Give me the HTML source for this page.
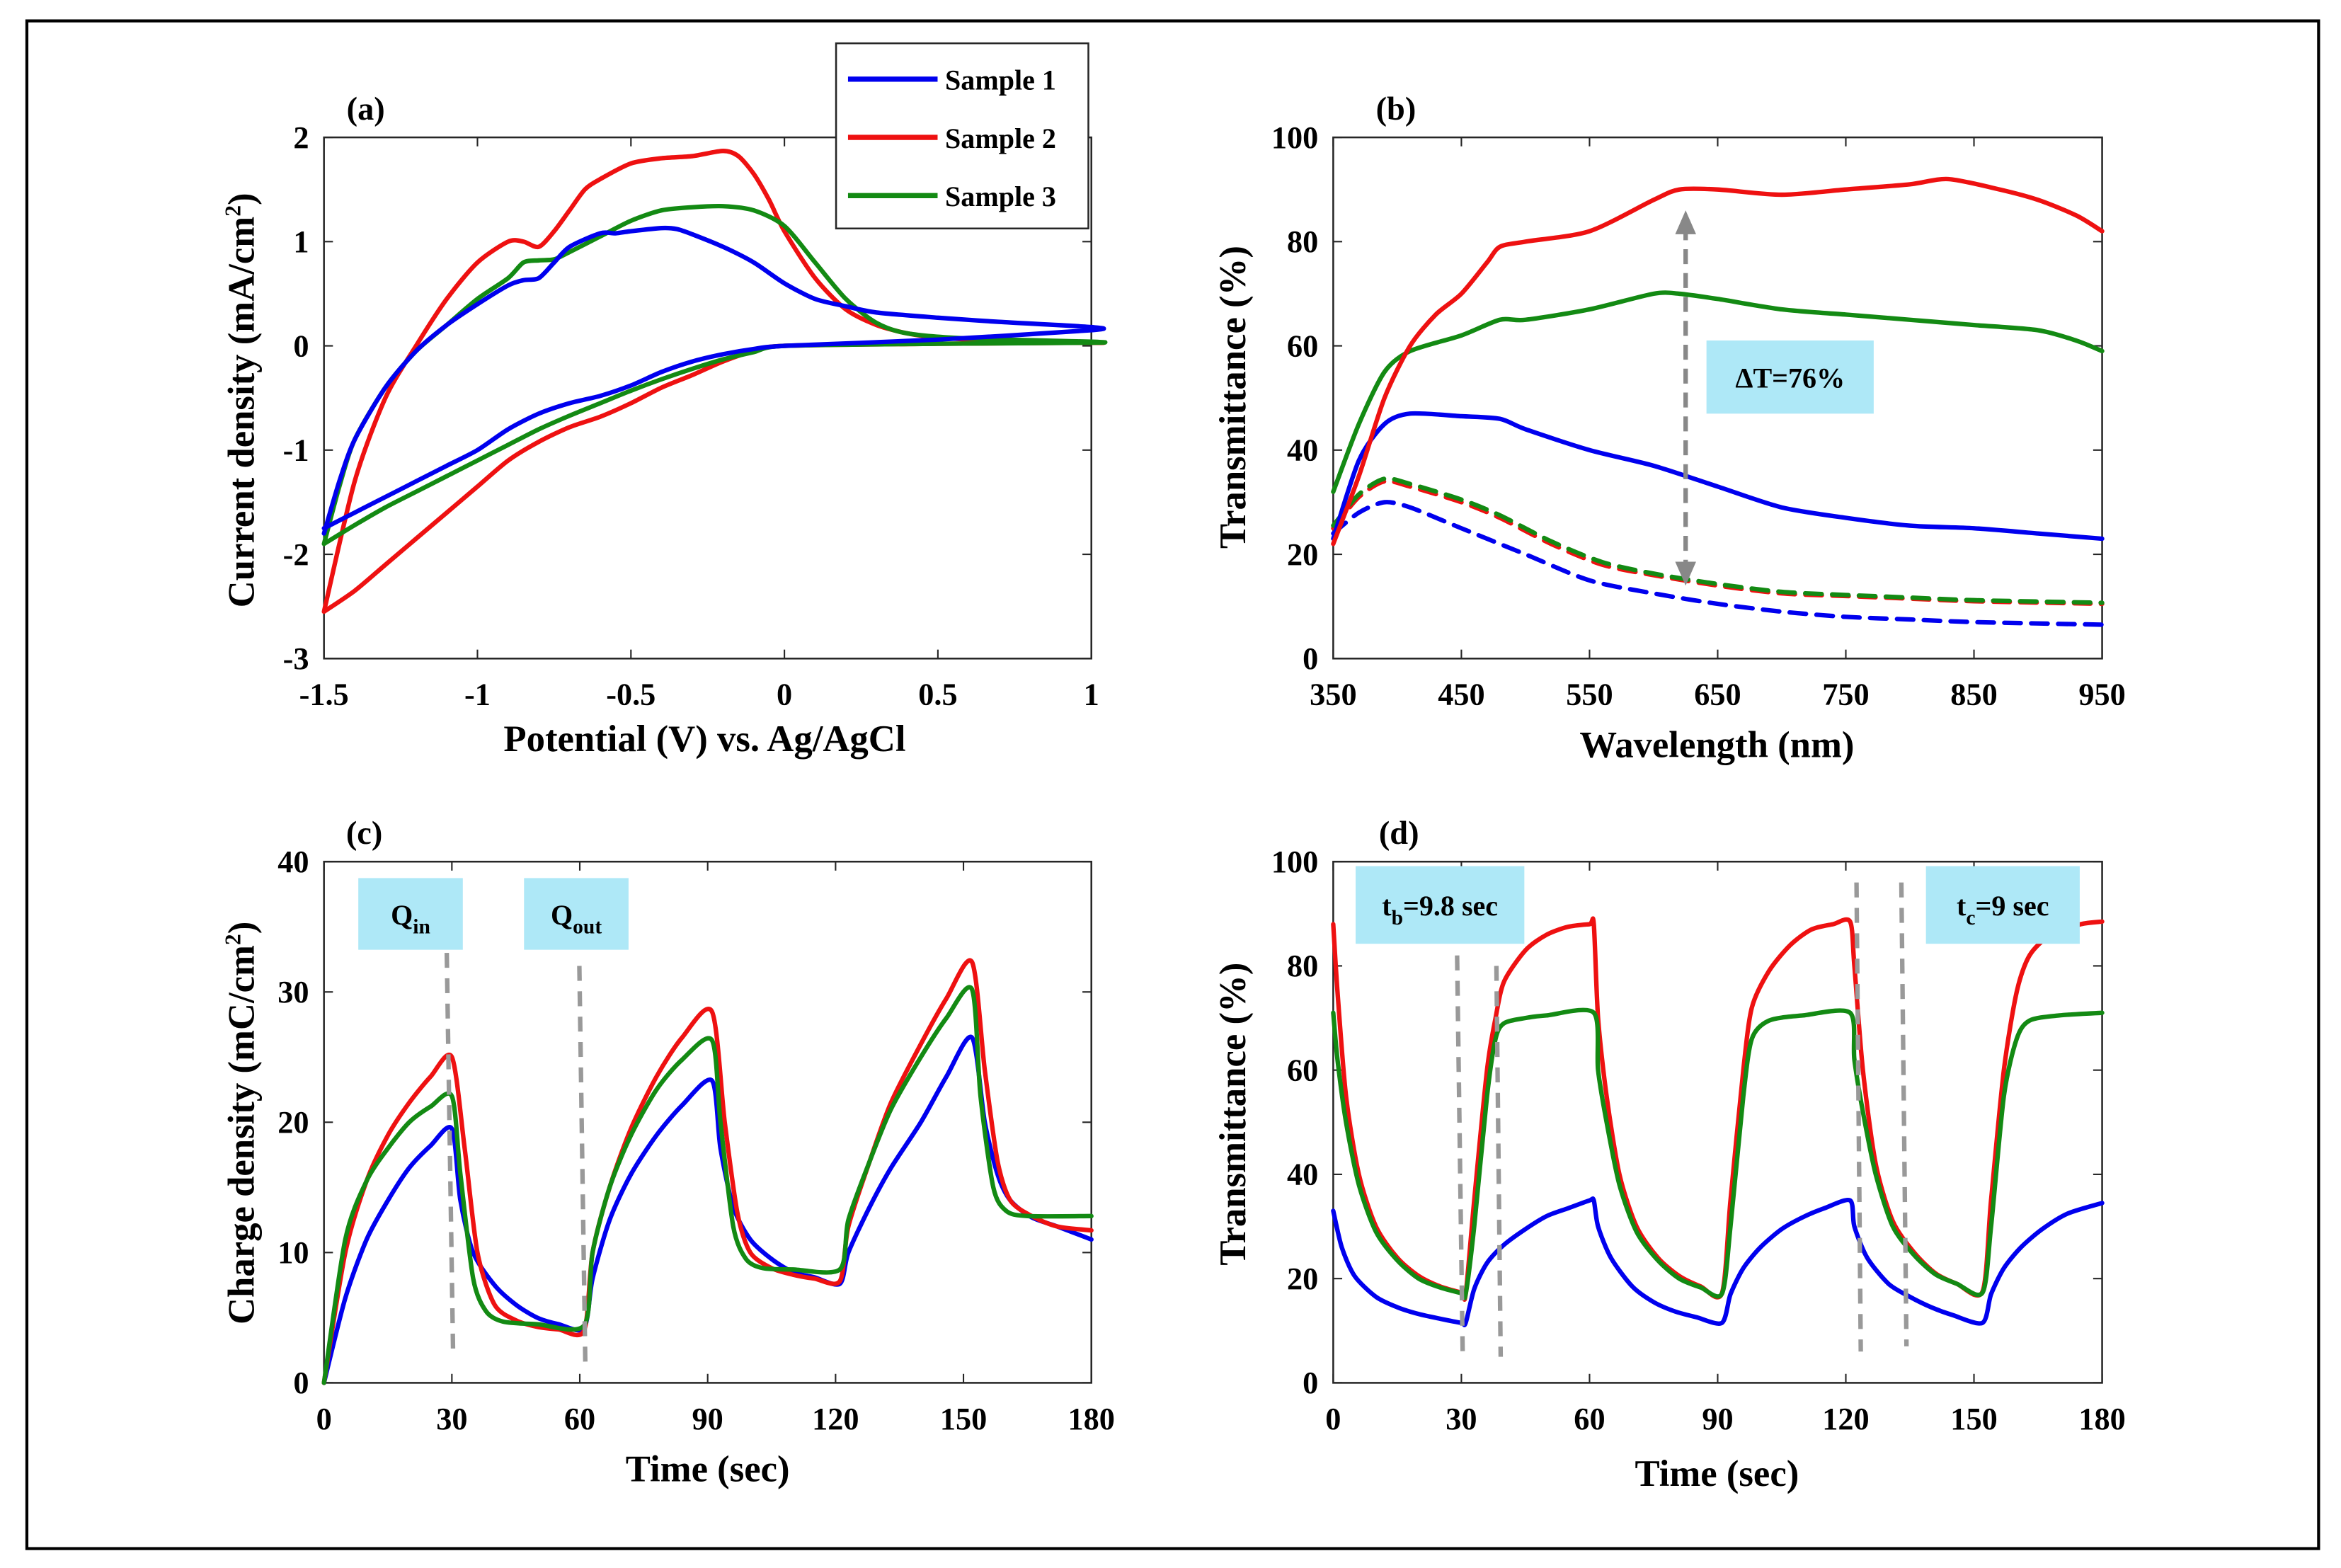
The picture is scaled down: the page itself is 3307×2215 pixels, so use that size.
<!DOCTYPE html>
<html><head><meta charset="utf-8"><style>
html,body{margin:0;padding:0;background:#fff;}
svg{display:block;}
text{font-family:"Liberation Serif",serif;font-weight:bold;fill:#000;}
</style></head><body>
<svg id="fig" xmlns="http://www.w3.org/2000/svg" width="3307" height="2215" viewBox="0 0 1568 1050" preserveAspectRatio="none">
<rect x="18" y="14" width="1535" height="1023" fill="none" stroke="#000" stroke-width="2"/>
<g id="layer"></g>
</svg>
<script>
// ---------- Panel (a) CV data ----------
const cvS1x=[-1.5,-1.45,-1.4,-1.3,-1.2,-1.1,-1.0,-0.9,-0.85,-0.8,-0.75,-0.7,-0.6,-0.55,-0.5,-0.4,-0.35,-0.3,-0.2,-0.1,0,0.1,0.2,0.3,0.5,0.7,1,1,0.5,0,-0.1,-0.2,-0.3,-0.4,-0.5,-0.6,-0.7,-0.8,-0.9,-1.0,-1.1,-1.2,-1.3,-1.4,-1.5];
const cvS1y=[-1.8,-1.3,-0.9,-0.4,-0.05,0.2,0.4,0.58,0.63,0.65,0.8,0.95,1.08,1.08,1.1,1.13,1.12,1.07,0.95,0.8,0.6,0.45,0.38,0.32,0.27,0.23,0.18,0.15,0.06,0,-0.03,-0.08,-0.15,-0.25,-0.38,-0.48,-0.55,-0.65,-0.8,-1.0,-1.15,-1.3,-1.45,-1.6,-1.75];
const cvS2x=[-1.5,-1.4,-1.3,-1.2,-1.1,-1.0,-0.9,-0.85,-0.8,-0.75,-0.7,-0.65,-0.6,-0.5,-0.4,-0.3,-0.2,-0.15,-0.1,-0.05,0,0.1,0.2,0.3,0.4,0.5,0.7,1,1,0.5,0,-0.1,-0.2,-0.3,-0.4,-0.5,-0.6,-0.7,-0.8,-0.9,-1.0,-1.1,-1.2,-1.3,-1.4,-1.5];
const cvS2y=[-2.55,-1.3,-0.5,0.0,0.45,0.8,1.0,1.0,0.95,1.1,1.3,1.5,1.6,1.75,1.8,1.82,1.87,1.82,1.65,1.4,1.1,0.65,0.35,0.2,0.12,0.08,0.05,0.03,0.03,0.02,0,-0.05,-0.15,-0.28,-0.4,-0.55,-0.68,-0.78,-0.92,-1.1,-1.35,-1.6,-1.85,-2.1,-2.35,-2.55];
const cvS3x=[-1.5,-1.45,-1.4,-1.3,-1.2,-1.1,-1.0,-0.9,-0.85,-0.8,-0.75,-0.7,-0.6,-0.5,-0.4,-0.3,-0.2,-0.1,0,0.1,0.2,0.3,0.4,0.6,1,1,0.5,0,-0.1,-0.2,-0.3,-0.4,-0.5,-0.6,-0.7,-0.8,-0.9,-1.0,-1.1,-1.2,-1.3,-1.4,-1.5];
const cvS3y=[-1.9,-1.35,-0.9,-0.4,-0.05,0.2,0.45,0.65,0.8,0.82,0.83,0.9,1.05,1.2,1.3,1.33,1.34,1.3,1.15,0.8,0.45,0.22,0.12,0.07,0.04,0.03,0.02,0,-0.06,-0.13,-0.22,-0.32,-0.43,-0.55,-0.67,-0.8,-0.95,-1.1,-1.25,-1.4,-1.55,-1.72,-1.9];
const cvXTicks=[-1.5,-1,-0.5,0,0.5,1];
const cvXTickLabels=["-1.5","-1","-0.5","0","0.5","1"];
const cvYTicks=[-3,-2,-1,0,1,2];
const legendLabels=["Sample 1","Sample 2","Sample 3"];

// ---------- Panel (b) transmittance spectra ----------
const wlRedSolid=[350,370,390,410,430,450,470,480,500,550,600,620,650,700,750,800,830,870,900,930,950];
const tRedSolid=[22,35,50,60,66,70,76,79,80,82,88,90,90,89,90,91,92,90,88,85,82];
const wlGreenSolid=[350,370,390,410,450,480,500,550,600,620,650,700,750,800,850,900,930,950];
const tGreenSolid=[32,45,55,59,62,65,65,67,70,70,69,67,66,65,64,63,61,59];
const wlBlueSolid=[350,370,390,410,450,480,500,550,600,650,700,750,800,850,900,950];
const tBlueSolid=[23,38,45,47,46.5,46,44,40,37,33,29,27,25.5,25,24,23];
const wlRedDash=[350,370,390,410,450,480,520,560,600,650,700,750,800,850,950];
const tRedDash=[25,31,34,33,30,27,22,18,16,14,12.5,12,11.5,11,10.5];
const tGreenDash=[25.5,31.5,34.5,33.5,30.5,27.5,22.5,18.5,16.3,14.3,12.8,12.2,11.7,11.2,10.7];
const wlBlueDash=[350,370,390,410,450,500,550,600,650,700,750,800,850,950];
const tBlueDash=[24,28,30,29,25,20,15,12.5,10.5,9,8,7.5,7,6.5];
const wlTicks=[350,450,550,650,750,850,950];
const tTicks=[0,20,40,60,80,100];

// ---------- Panel (c) charge density ----------
const tcRed=[0,5,10,15,20,25,30,33,36,40,45,50,55,61,63,67,72,78,84,91,94,97,100,105,110,115,121,123,128,133,140,146,152,155,158,161,166,172,180];
const qRed=[0,10,15.5,19,21.5,23.5,25,18,10,6,4.8,4.3,4.1,4,10,15,19.5,23.5,26.5,28.5,20,13,10,8.8,8.3,8,7.8,12,17,21.5,26,29.5,32.3,24,17,14,12.8,12,11.7];
const tcGreen=[0,5,10,15,20,25,30,32,35,38,42,50,61,63,67,72,78,84,91,93,96,99,103,110,121,123,128,133,140,146,152,154,157,160,165,180];
const qGreen=[0,11,15.5,18,20,21.2,22,16,8,5.5,4.7,4.5,4.4,10,15,19,22.5,24.8,26.3,20,12,9.5,8.8,8.7,8.7,12.5,17,21,25,28,30.2,22,15,13.2,12.8,12.8];
const tcBlue=[0,5,10,15,20,25,30,32,35,40,45,50,55,61,63,67,72,78,84,91,93,96,100,105,110,115,121,123,128,133,140,146,152,155,158,161,166,172,180];
const qBlue=[0,6.5,11,14,16.5,18.2,19.5,14,10,7.5,6,5,4.5,4.2,8,12.5,16,19,21.3,23.2,18,13.5,11,9.5,8.5,8.1,7.6,10,13.5,16.5,20,23.5,26.5,20,16,14,12.7,12,11];
const timeTicks=[0,30,60,90,120,150,180];
const qTicks=[0,10,20,30,40];

// ---------- Panel (d) switching transmittance ----------
const tdRed=[0,1,3,6,10,15,20,25,30,31,33,36,38,40,45,50,55,60,61,62,64,67,71,76,81,86,91,93,96,98,102,107,112,117,121,122,124,127,131,136,141,146,152,154,157,160,163,168,175,180];
const TRed=[88,75,55,40,30,24,20.5,18.5,17.3,17,35,60,70,77,83,86,87.5,88,88,70,55,40,30,24,20.5,18.5,17.2,35,60,72,79,84,87,88,88.5,80,60,42,31,25,21,19,17.5,35,60,75,82,86,88,88.5];
const tdGreen=[0,1,3,6,10,15,20,25,30,31,33,36,38,40,45,50,61,62,64,67,71,76,81,86,91,93,96,98,102,110,121,122,124,127,131,136,141,146,152,154,157,160,163,170,180];
const TGreen=[71,62,50,38,29,23.5,20,18.3,17.2,17,30,55,66,69,70,70.5,71,60,50,38,29,23.5,20,18.3,17.1,30,55,66,69.5,70.5,71,62,52,40,30,24.5,20.8,19,17.3,30,55,66,69.5,70.5,71];
const tdBlue=[0,2,5,10,15,20,25,30,31,33,36,40,45,50,55,60,61,62,65,70,75,80,85,91,93,96,100,105,110,115,121,122,125,130,135,140,145,152,154,157,161,166,172,180];
const TBlue=[33,26,20.5,16.5,14.5,13.2,12.3,11.5,11.5,18,23,26.5,29.5,32,33.5,35,35,30,24,18.5,15.5,13.7,12.6,11.5,17,22,26,29.5,31.8,33.5,35,30,24,19,16.5,14.5,13,11.5,17,22,26,29.5,32.5,34.5];
const dTicks=[0,20,40,60,80,100];

const NS="http://www.w3.org/2000/svg";
const layer=document.getElementById('layer');
const BLUE="#0000ee",RED="#ee1111",GREEN="#138a13",GRAY="#999999";

function el(tag,attrs,parent){const e=document.createElementNS(NS,tag);for(const k in attrs)e.setAttribute(k,attrs[k]);(parent||layer).appendChild(e);return e;}
function scale(d0,d1,p0,p1){return v=>p0+(v-d0)/(d1-d0)*(p1-p0);}

function axes(g,X,Y,box,xt,xl,yt,yl){
  const r=el('rect',{x:box.l,y:box.t,width:box.r-box.l,height:box.b-box.t,fill:'none',stroke:'#262626','stroke-width':1.2},g);
  
  
  xt.forEach((v,i)=>{const x=X(v);
    el('line',{x1:x,y1:box.b,x2:x,y2:box.b-6,stroke:'#262626','stroke-width':1},g);
    el('line',{x1:x,y1:box.t,x2:x,y2:box.t+6,stroke:'#262626','stroke-width':1},g);
    const t=el('text',{x:x,y:box.b+31,'text-anchor':'middle','font-size':21},g);t.textContent=xl[i];
    
    });
  yt.forEach((v,i)=>{const y=Y(v);
    el('line',{x1:box.l,y1:y,x2:box.l+6,y2:y,stroke:'#262626','stroke-width':1},g);
    el('line',{x1:box.r,y1:y,x2:box.r-6,y2:y,stroke:'#262626','stroke-width':1},g);
    const t=el('text',{x:box.l-10,y:y+7,'text-anchor':'end','font-size':21},g);t.textContent=yl[i];
    
    });
}
function smoothPath(pts){
  let d='M'+pts[0][0].toFixed(2)+','+pts[0][1].toFixed(2);
  for(let i=0;i<pts.length-1;i++){
    const p0=pts[Math.max(0,i-1)],p1=pts[i],p2=pts[i+1],p3=pts[Math.min(pts.length-1,i+2)];
    const k=1/6*0.8;
    const c1=[p1[0]+(p2[0]-p0[0])*k,p1[1]+(p2[1]-p0[1])*k];
    const c2=[p2[0]-(p3[0]-p1[0])*k,p2[1]-(p3[1]-p1[1])*k];
    d+=' C'+c1[0].toFixed(2)+','+c1[1].toFixed(2)+' '+c2[0].toFixed(2)+','+c2[1].toFixed(2)+' '+p2[0].toFixed(2)+','+p2[1].toFixed(2);
  }
  return d;
}
function line(g,X,Y,xs,ys,color,name,dash){
  const pts=xs.map((x,i)=>[X(x),Y(ys[i])]);
  const p=el('path',{d:smoothPath(pts),fill:'none',stroke:color,'stroke-width':3,'stroke-linejoin':'round','stroke-linecap':'round'},g);
  if(dash)p.setAttribute('stroke-dasharray',dash);
  
  
  return p;
}
function label(g,x,y,txt,size,name,rot){
  const t=el('text',{x:x,y:y,'text-anchor':'middle','font-size':size},g);
  if(rot)t.setAttribute('transform','rotate(-90 '+x+' '+y+')');
  t.innerHTML=txt;
  
  
  return t;
}
function vdash(g,X,Y,x1,y1,x2,y2,name){
  const l=el('line',{x1:X(x1),y1:Y(y1),x2:X(x2),y2:Y(y2),stroke:GRAY,'stroke-width':3,'stroke-dasharray':'10,7'},g);
  
  
}
function cyanBox(g,x,y,w,h,html,name){
  const r=el('rect',{x:x,y:y,width:w,height:h,fill:'#aee8f7'},g);
  
  
  const t=el('text',{x:x+w/2,y:y+h/2+7,'text-anchor':'middle','font-size':19},g);
  t.innerHTML=html;
  
  
}

// ===== Panel a =====
{
 const g=el('g',{});
 
 
 const box={l:217,r:731,t:92,b:441};
 const X=scale(-1.5,1,box.l,box.r),Y=scale(-3,2,box.b,box.t);
 axes(g,X,Y,box,cvXTicks,cvXTickLabels,cvYTicks,cvYTicks.map(String));
 line(g,X,Y,cvS2x,cvS2y,RED,'sample-2-cv');
 line(g,X,Y,cvS3x,cvS3y,GREEN,'sample-3-cv');
 line(g,X,Y,cvS1x,cvS1y,BLUE,'sample-1-cv');
 label(g,245,80,'(a)',22,'panel-a-label');
 label(g,472,503,'Potential (V) vs. Ag/AgCl',25,'x-axis-title');
 label(g,170,268,'Current density (mA/cm<tspan dy="-9" font-size="15">2</tspan><tspan dy="9">)</tspan>',25,'y-axis-title',true);
 const lg=el('g',{},g);
 
 
 el('rect',{x:560,y:29,width:169,height:124,fill:'#fff',stroke:'#262626','stroke-width':1.2},lg);
 const cols=[BLUE,RED,GREEN];
 legendLabels.forEach((s,i)=>{const y=53+i*39;
   const l=el('line',{x1:568,y1:y,x2:628,y2:y,stroke:cols[i],'stroke-width':3.5},lg);
   
   
   const t=el('text',{x:633,y:y+7,'font-size':19},lg);t.textContent=s;
   
   });
}
// ===== Panel b =====
{
 const g=el('g',{});
 
 
 const box={l:893,r:1408,t:92,b:441};
 const X=scale(350,950,box.l,box.r),Y=scale(0,100,box.b,box.t);
 axes(g,X,Y,box,wlTicks,wlTicks.map(String),tTicks,tTicks.map(String));
 line(g,X,Y,wlBlueDash,tBlueDash,BLUE,'sample-1-bleached-dashed','11,7');
 line(g,X,Y,wlRedDash,tRedDash,RED,'sample-2-colored-dashed','11,7');
 line(g,X,Y,wlRedDash,tGreenDash,GREEN,'sample-3-colored-dashed','11,7');
 line(g,X,Y,wlBlueSolid,tBlueSolid,BLUE,'sample-1-bleached');
 line(g,X,Y,wlGreenSolid,tGreenSolid,GREEN,'sample-3-bleached');
 line(g,X,Y,wlRedSolid,tRedSolid,RED,'sample-2-bleached');
 const ax=X(625),ay1=Y(86),ay2=Y(14);
 const a=el('line',{x1:ax,y1:ay1+10,x2:ax,y2:ay2-10,stroke:'#888','stroke-width':3,'stroke-dasharray':'10,6'},g);
 
 
 el('polygon',{points:`${ax},${ay1} ${ax-7},${ay1+16} ${ax+7},${ay1+16}`,fill:'#888'},g);
 el('polygon',{points:`${ax},${ay2} ${ax-7},${ay2-16} ${ax+7},${ay2-16}`,fill:'#888'},g);
 cyanBox(g,1143,228,112,49,'ΔT=76%','delta-t-annotation');
 label(g,935,80,'(b)',22,'panel-b-label');
 label(g,1150,507,'Wavelength (nm)',25,'x-axis-title');
 label(g,834,266,'Transmittance (%)',25,'y-axis-title',true);
}
// ===== Panel c =====
{
 const g=el('g',{});
 
 
 const box={l:217,r:731,t:577,b:926};
 const X=scale(0,180,box.l,box.r),Y=scale(0,40,box.b,box.t);
 axes(g,X,Y,box,timeTicks,timeTicks.map(String),qTicks,qTicks.map(String));
 line(g,X,Y,tcBlue,qBlue,BLUE,'sample-1-charge');
 line(g,X,Y,tcRed,qRed,RED,'sample-2-charge');
 line(g,X,Y,tcGreen,qGreen,GREEN,'sample-3-charge');
 vdash(g,X,Y,28.8,33,30.3,2,'q-in-marker');
 vdash(g,X,Y,59.9,32,61.3,1.5,'q-out-marker');
 cyanBox(g,240,588,70,48,'Q<tspan dy="6" font-size="14">in</tspan>','q-in-annotation');
 cyanBox(g,351,588,70,48,'Q<tspan dy="6" font-size="14">out</tspan>','q-out-annotation');
 label(g,244,565,'(c)',22,'panel-c-label');
 label(g,474,992,'Time (sec)',25,'x-axis-title');
 label(g,170,752,'Charge density (mC/cm<tspan dy="-9" font-size="15">2</tspan><tspan dy="9">)</tspan>',25,'y-axis-title',true);
}
// ===== Panel d =====
{
 const g=el('g',{});
 
 
 const box={l:893,r:1408,t:577,b:926};
 const X=scale(0,180,box.l,box.r),Y=scale(0,100,box.b,box.t);
 axes(g,X,Y,box,timeTicks,timeTicks.map(String),dTicks,dTicks.map(String));
 line(g,X,Y,tdBlue,TBlue,BLUE,'sample-1-transmittance');
 line(g,X,Y,tdRed,TRed,RED,'sample-2-transmittance');
 line(g,X,Y,tdGreen,TGreen,GREEN,'sample-3-transmittance');
 vdash(g,X,Y,29,82,30.3,6,'bleach-start-marker');
 vdash(g,X,Y,38.2,80,39.2,5,'bleach-end-marker');
 vdash(g,X,Y,122.5,96,123.5,6,'color-start-marker');
 vdash(g,X,Y,133,96,134.2,7,'color-end-marker');
 cyanBox(g,908,580,113,52,'t<tspan dy="6" font-size="14">b</tspan><tspan dy="-6">=9.8 sec</tspan>','bleaching-time-annotation');
 cyanBox(g,1290,580,103,52,'t<tspan dy="6" font-size="14">c</tspan><tspan dy="-6">=9 sec</tspan>','coloring-time-annotation');
 label(g,937,565,'(d)',22,'panel-d-label');
 label(g,1150,995,'Time (sec)',25,'x-axis-title');
 label(g,834,746,'Transmittance (%)',25,'y-axis-title',true);
}
</script>
</body></html>
